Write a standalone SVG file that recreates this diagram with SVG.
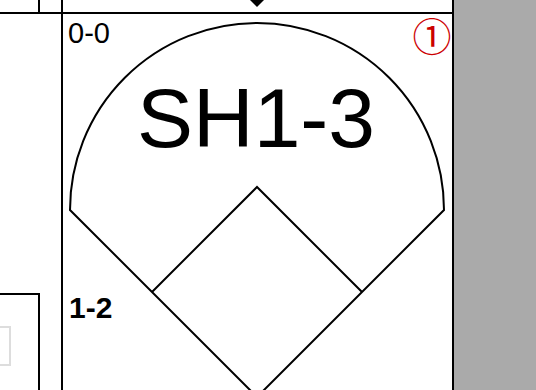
<svg xmlns="http://www.w3.org/2000/svg" width="536" height="390" viewBox="0 0 536 390">
<style>
.grid{stroke:#000;stroke-width:2;fill:none}
.field{stroke:#000;stroke-width:2;fill:none;stroke-linejoin:miter}
.t{font-family:"Liberation Sans",Arial,sans-serif;fill:#000}
</style>
<rect x="0" y="0" width="536" height="390" fill="#fff"/>
<g id="gray-area"><rect x="454" y="0" width="82" height="390" fill="#aaaaaa"/></g>
<g id="grid">
<line class="grid" x1="0" y1="13" x2="453" y2="13"/>
<line class="grid" x1="39" y1="0" x2="39" y2="13"/>
<line class="grid" x1="62" y1="0" x2="62" y2="390"/>
<line class="grid" x1="453" y1="0" x2="453" y2="390"/>
</g>
<g id="top-marker"><polygon points="257,-7 264,0 257,7 250,0" fill="#000"/></g>
<g id="left-box">
<polyline class="grid" points="0,294 39,294 39,390"/>
<rect x="-5" y="327" width="15" height="38" fill="none" stroke="#dddddd" stroke-width="2"/>
</g>
<g id="field">
<path class="field" d="M70,210 A187,187 0 0 1 444,210 L257,397 Z"/>
<polyline class="field" points="152,292 257,187 362,292"/>
</g>
<g id="labels">
<text class="t" x="68" y="43" font-size="29">0-0</text>
<text class="t" x="256" y="147" font-size="84" text-anchor="middle">SH1-3</text>
<text class="t" x="69" y="318" font-size="30" font-weight="bold">1-2</text>
<text x="432" y="51" font-size="39" fill="#cc0000" text-anchor="middle" font-family="'Noto Sans CJK JP','Liberation Sans',sans-serif">①</text>
</g>
</svg>
